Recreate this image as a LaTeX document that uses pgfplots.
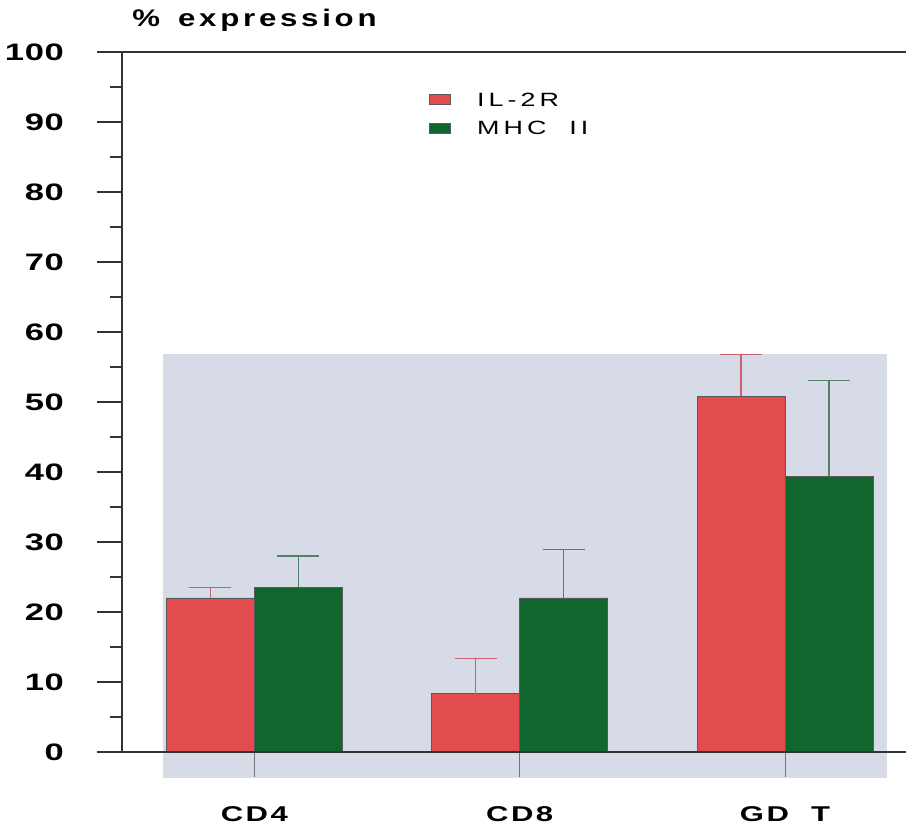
\documentclass[border=0pt]{standalone}
\usepackage{fontspec}
\usepackage{graphicx}
\usepackage{pgfplots}
\pgfplotsset{compat=1.18}
\setmainfont{Liberation Sans}
\newfontfamily\tickfont[LetterSpace=2]{Liberation Sans Bold}
\newfontfamily\catfont[LetterSpace=8]{Liberation Sans Bold}
\newfontfamily\titlefont[LetterSpace=12]{Liberation Sans Bold}
\newfontfamily\legfont[LetterSpace=15]{Liberation Sans}
\newcommand{\wide}[2][1.45]{\scalebox{#1}[1]{#2}}
\definecolor{barred}{RGB}{226,76,78}
\definecolor{bargreen}{RGB}{16,102,44}
\definecolor{bggrey}{RGB}{214,219,231}
\definecolor{errred}{RGB}{205,95,110}
\definecolor{errgreen}{RGB}{80,130,105}
\begin{document}
\begin{tikzpicture}
\begin{axis}[
  name=ax,
  scale only axis,
  width=392pt, height=350pt,
  xmin=0.501, xmax=3.456,
  ymin=0, ymax=100,
  clip=false,
  axis on top,
  axis x line=box,
  axis y line=left,
  axis line style={-, line width=0.7pt, black!80},
  xtick={1,2,3},
  xticklabels={\wide{CD4},\wide{CD8},\wide{GD\ \ T}},
  xtick pos=bottom,
  ytick={0,10,...,100},
  minor y tick num=1,
  tick align=outside,
  major tick length=12.5pt,
  minor tick length=6pt,
  every tick/.style={black!80, line width=0.6pt},
  xtick style={black!55, line width=0.5pt},
  yticklabel={\wide{\pgfmathprintnumber[assume math mode=true]{\tick}}},
  yticklabel style={font=\tickfont\fontsize{11.9}{13}\selectfont, anchor=east, xshift=-13pt},
  xticklabel style={font=\catfont\fontsize{10.7}{12}\selectfont, anchor=north, yshift=-11pt},
  ybar=0pt,
  bar width=44pt,
  legend image code/.code={\fill[#1] (0pt,-2.6pt) rectangle (10.5pt,2.6pt);},
  legend style={at={(rel axis cs:0.3916,0.942)}, anchor=north west, draw=none, fill=none,
    font=\legfont\fontsize{9.6}{11}\selectfont, row sep=7.6pt, inner sep=0pt,
    nodes={inner sep=0pt, text depth=0pt}},
  legend cell align=left,
  error bars/y dir=plus,
  error bars/y explicit,
]
\fill[bggrey] (axis cs:0.656,-3.71) rectangle (axis cs:3.384,56.86);
\addplot[fill=barred, draw=black!65, line width=0.4pt,
  error bars/error bar style={errred, line width=0.6pt},
  error bars/error mark options={errred, rotate=90, mark size=10.5pt, line width=0.6pt}]
  coordinates {(1,22.0) +- (0,1.5) (2,8.3) +- (0,5.1) (3,50.8) +- (0,6.0)};
\addplot[fill=bargreen, draw=black!65, line width=0.4pt,
  error bars/error bar style={errgreen, line width=0.6pt},
  error bars/error mark options={errgreen, rotate=90, mark size=10.5pt, line width=0.6pt}]
  coordinates {(1,23.5) +- (0,4.5) (2,22.0) +- (0,6.9) (3,39.3) +- (0,13.8)};
\legend{\hspace{13pt}\wide[1.4]{IL-2R},\hspace{13pt}\wide[1.4]{MHC\ \ II}}
\node[anchor=base west, inner sep=0pt, font=\titlefont\fontsize{12}{13}\selectfont] at ([xshift=5pt,yshift=12.5pt]rel axis cs:0,1) {\wide[1.3]{\%}\hspace{9pt}\wide[1.3]{expression}};
\end{axis}
\pgfresetboundingbox
\path[use as bounding box] ([xshift=-61pt,yshift=-40.5pt]ax.south west) rectangle ([yshift=26pt]ax.north east);
\end{tikzpicture}
\end{document}
